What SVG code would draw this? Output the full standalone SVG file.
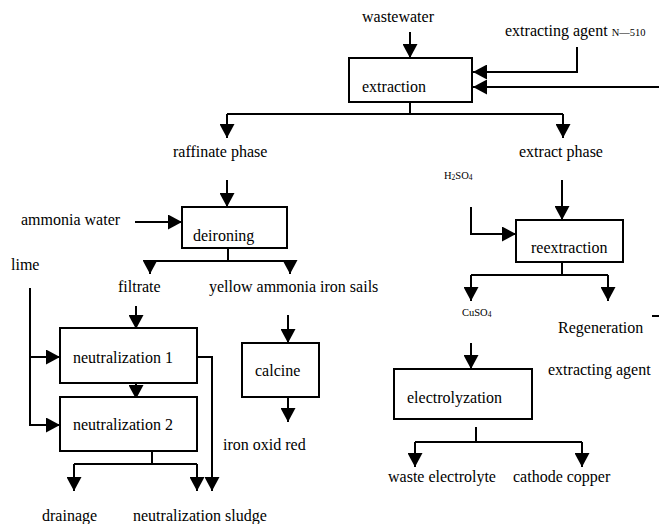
<svg xmlns="http://www.w3.org/2000/svg" width="659" height="524" viewBox="0 0 659 524">
<style>
text{font-family:"Liberation Serif","Times New Roman",serif;font-size:16px;fill:#000}
.s{font-size:10.5px}
.sub{font-size:7.5px}
.box{fill:#fff;stroke:#000;stroke-width:2}
.c{fill:none;stroke:#000;stroke-width:2}
.a{marker-end:url(#ah)}
</style>
<defs>
<marker id="ah" viewBox="0 0 14 15" refX="14" refY="7.5" markerWidth="14" markerHeight="15" markerUnits="userSpaceOnUse" orient="auto">
<path d="M0,0 L14,7.5 L0,15 z" fill="#000"/>
</marker>
</defs>
<rect width="659" height="524" fill="#fff"/>
<g id="connectors">
<path class="c a" d="M410,32 V58"/>
<path class="c a" d="M577,47 V72 H473"/>
<path class="c a" d="M659,87 H473"/>
<path class="c" d="M410,102 V114"/>
<path class="c a" d="M227,114 V138"/>
<path class="c" d="M227,114 H563"/>
<path class="c a" d="M563,114 V138"/>
<path class="c a" d="M227,180 V207"/>
<path class="c a" d="M135,222 H182"/>
<path class="c" d="M228,248 V261 M150,261 H290"/>
<path class="c a" d="M150,261 V274"/>
<path class="c a" d="M290,261 V274"/>
<path class="c a" d="M136,306 V329"/>
<path class="c a" d="M30,288 V425 H60"/>
<path class="c a" d="M30,357 H60"/>
<path class="c a" d="M136,373 V399"/>
<path class="c a" d="M197,357 H212 V491"/>
<path class="c" d="M152,451 V464 M74,464 H197"/>
<path class="c a" d="M74,464 V491"/>
<path class="c a" d="M197,464 V491"/>
<path class="c a" d="M288,315 V343"/>
<path class="c a" d="M288,397 V422"/>
<path class="c a" d="M562,180 V220"/>
<path class="c a" d="M471,207 V234 H516"/>
<path class="c" d="M562,262 V275 M471,275 H608"/>
<path class="c a" d="M471,275 V301"/>
<path class="c a" d="M608,275 V301"/>
<path class="c" d="M652,316 H659"/>
<path class="c a" d="M471,343 V369"/>
<path class="c" d="M476,427 V442 M415,442 H582"/>
<path class="c a" d="M415,442 V467"/>
<path class="c a" d="M582,442 V467"/>
</g>
<g id="extraction"><rect class="box" x="349" y="58" width="123" height="44"/><text x="362" y="92">extraction</text></g>
<g id="deironing"><rect class="box" x="182" y="207" width="105" height="41"/><text x="193" y="241">deironing</text></g>
<g id="neutralization1"><rect class="box" x="60" y="328" width="137" height="55"/><text x="73" y="363">neutralization 1</text></g>
<g id="neutralization2"><rect class="box" x="60" y="397" width="137" height="54"/><text x="73" y="430">neutralization 2</text></g>
<g id="calcine"><rect class="box" x="242" y="343" width="77" height="54"/><text x="255" y="376">calcine</text></g>
<g id="reextraction"><rect class="box" x="516" y="220" width="107" height="42"/><text x="531" y="253">reextraction</text></g>
<g id="electrolyzation"><rect class="box" x="394" y="369" width="138" height="50"/><text x="407" y="403">electrolyzation</text></g>
<g id="labels">
<text x="362" y="22">wastewater</text>
<text x="505" y="36">extracting agent <tspan class="s">N—510</tspan></text>
<text x="173" y="157">raffinate phase</text>
<text x="519" y="157">extract phase</text>
<text class="s" x="444" y="179">H<tspan class="sub" dy="1">2</tspan><tspan dy="-1">SO</tspan><tspan class="sub" dy="1">4</tspan></text>
<text x="21" y="225">ammonia water</text>
<text x="11" y="270">lime</text>
<text x="118" y="292">filtrate</text>
<text x="209" y="292">yellow ammonia iron sails</text>
<text class="s" x="462" y="316">CuSO<tspan class="sub" dy="1">4</tspan></text>
<text x="558" y="333">Regeneration</text>
<text x="548" y="375">extracting agent</text>
<text x="223" y="450">iron oxid red</text>
<text x="388" y="482">waste electrolyte</text>
<text x="513" y="482">cathode copper</text>
<text x="42" y="521">drainage</text>
<text x="133" y="521">neutralization sludge</text>
</g>
</svg>
